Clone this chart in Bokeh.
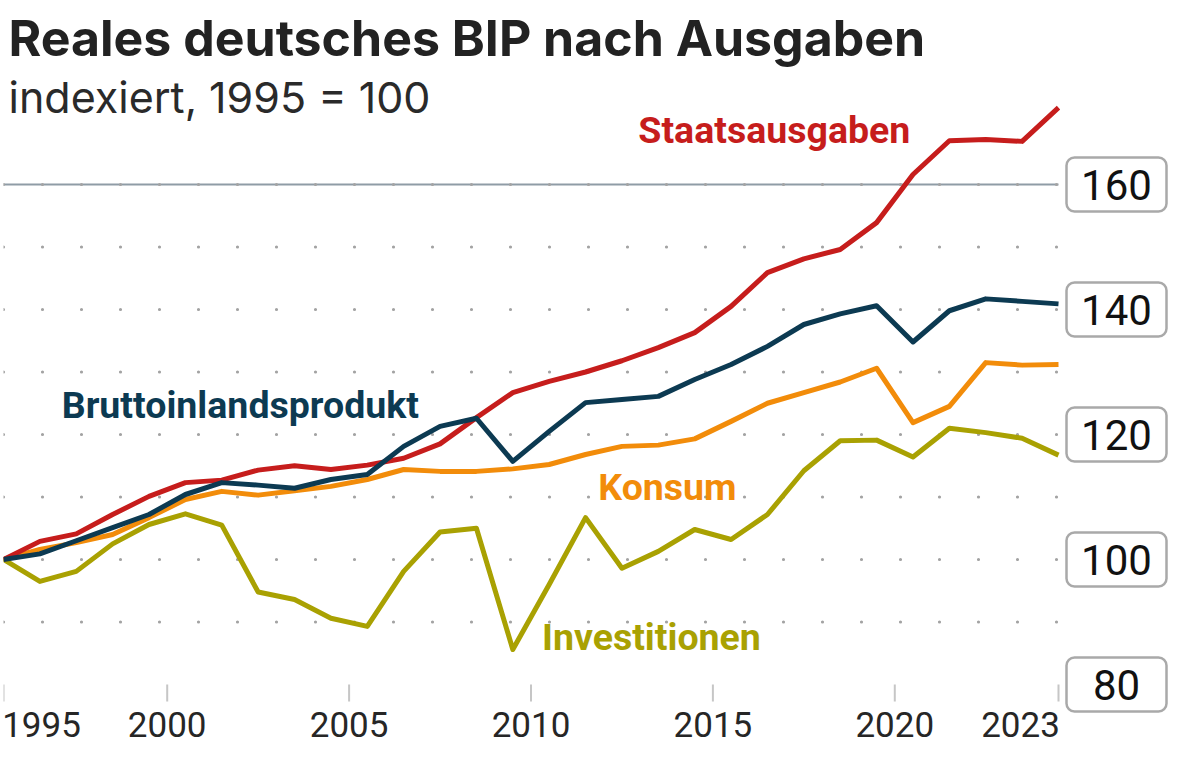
from bokeh.plotting import figure
from bokeh.models import Range1d, FixedTicker, Label, BoxAnnotation, ColumnDataSource
from bokeh.core.properties import value
from bokeh.embed import file_html
from bokeh.resources import INLINE

# ---------------- data ----------------
TITLE = "Reales deutsches BIP nach Ausgaben"
SUBTITLE = "indexiert, 1995 = 100"

years = list(range(1995, 2025))

staatsausgaben = [100.0, 102.9, 104.1, 107.2, 110.1, 112.3, 112.7, 114.3, 115.0, 114.4,
                  115.1, 116.2, 118.5, 122.7, 126.7, 128.5, 130.0, 131.8, 133.9, 136.3,
                  140.5, 145.9, 148.1, 149.6, 153.9, 161.6, 167.0, 167.2, 166.9, 172.3]

bip = [100.0, 100.9, 103.0, 105.1, 107.2, 110.4, 112.3, 111.9, 111.4, 112.8,
       113.6, 118.1, 121.3, 122.6, 115.7, 120.5, 125.1, 125.6, 126.1, 128.8,
       131.2, 134.1, 137.6, 139.3, 140.6, 134.8, 139.8, 141.7, 141.3, 140.9]

konsum = [100.0, 101.6, 102.7, 104.0, 106.7, 109.6, 110.9, 110.3, 111.0, 111.7,
          112.8, 114.4, 114.1, 114.1, 114.5, 115.2, 116.8, 118.1, 118.3, 119.3,
          122.1, 125.0, 126.7, 128.4, 130.6, 121.9, 124.5, 131.5, 131.1, 131.2]

investitionen = [100.0, 96.5, 98.1, 102.5, 105.6, 107.3, 105.5, 94.8, 93.6, 90.6,
                 89.3, 98.1, 104.4, 105.0, 85.6, 96.0, 106.7, 98.6, 101.3, 104.8,
                 103.2, 107.2, 114.2, 119.0, 119.1, 116.4, 121.0, 120.3, 119.4, 116.7]

series_names = ["Investitionen", "Konsum", "Staatsausgaben", "Bruttoinlandsprodukt"]
series_values = [investitionen, konsum, staatsausgaben, bip]
series_colors = ["#a9a102", "#f28c0a", "#c61d1c", "#0c3a52"]

# label anchors: (year of left edge, index value at the text baseline)
label_years = [2009.8, 2011.35, 2012.45, 1996.6]
label_values = [85.6, 109.6, 166.6, 122.7]

y_tick_values = [80, 100, 120, 140, 160]
grid_rows = [90, 100, 110, 120, 130, 140, 150, 160]
highlight_row = 160
x_tick_labels = ["1995", "2000", "2005", "2010", "2015", "2020", "2023"]
x_tick_years = [1995, 2000, 2005, 2010, 2015, 2020, 2023]

# ---------------- layout ----------------
W, H = 1184, 749
LEFT = 3
PLOT_W = 1055          # width of the data area (1995 .. 2024)
FRAME_W = W - LEFT     # frame also holds the value boxes on the right
FRAME_H = 714          # frame also holds the lowest value box
PX_PER_UNIT = 6.25
X0, X1 = years[0], years[-1]
PX_PER_YEAR = PLOT_W / (X1 - X0)
Y1 = highlight_row + 184 / PX_PER_UNIT
Y_BOTTOM = Y1 - FRAME_H / PX_PER_UNIT
Y_LOW = min(y_tick_values)

LABEL_SIZE = 37.5
MID = 0.342  # distance baseline -> middle of the text box, in em


def y_at(screen_y):
    return Y1 - screen_y / PX_PER_UNIT


p = figure(width=W, height=H,
           x_range=Range1d(X0, X0 + FRAME_W / PX_PER_YEAR),
           y_range=Range1d(Y_BOTTOM, Y1),
           min_border_left=LEFT, min_border_right=0,
           min_border_top=0, min_border_bottom=H - FRAME_H,
           toolbar_location=None, output_backend="svg",
           y_axis_location=None)
p.outline_line_color = None
p.xgrid.visible = False
p.ygrid.visible = False
p.background_fill_color = "white"
p.border_fill_color = "white"

# ---------------- grid ----------------
p.segment(x0=[X0], x1=[X1], y0=[highlight_row], y1=[highlight_row],
          line_color="#8f9ca6", line_width=2)
p.multi_line(xs=[[X0, X1] for _ in grid_rows], ys=[[r, r] for r in grid_rows],
             line_color="#a3a3a3", line_width=3.2, line_dash="0 39", line_cap="round")

# ---------------- lines ----------------
for name, vals, col in zip(series_names, series_values, series_colors):
    p.line(years, vals, line_color=col, line_width=5, line_join="round")

# ---------------- direct labels ----------------
mid_shift = MID * LABEL_SIZE / PX_PER_UNIT
lab_src = ColumnDataSource(dict(x=label_years,
                                y=[v + mid_shift for v in label_values],
                                text=series_names, color=series_colors))
p.text(x="x", y="y", text="text", text_color="color", source=lab_src,
       text_font=value("Roboto"), text_font_style="bold",
       text_font_size=f"{LABEL_SIZE}px",
       text_align="left", text_baseline="middle")

# ---------------- x axis ----------------
half_label = 38 / PX_PER_YEAR
tick_pos = [X0] + [y - 0.5 for y in x_tick_years[1:-1]] + [X1]
label_pos = [tick_pos[0] + half_label] + tick_pos[1:-1] + [tick_pos[-1] - half_label]
# tick marks hang below the lowest value line
tick_len = 17 / PX_PER_UNIT
p.segment(x0=tick_pos, x1=tick_pos, y0=[Y_LOW] * len(tick_pos),
          y1=[Y_LOW - tick_len] * len(tick_pos), line_color="#c6c6c6", line_width=2)

ax = p.xaxis[0]
ax.ticker = FixedTicker(ticks=label_pos, minor_ticks=[])
ax.major_label_overrides = {float(k): t for k, t in zip(label_pos, x_tick_labels)}
ax.axis_line_color = None
ax.major_tick_line_color = None
ax.minor_tick_line_color = None
ax.major_tick_in = 0
ax.major_tick_out = 0
ax.minor_tick_in = 0
ax.minor_tick_out = 0
ax.major_label_standoff = -3
ax.major_label_text_font = "Roboto"
ax.major_label_text_font_size = "35px"
ax.major_label_text_color = "#262626"

# ---------------- y value boxes on the right ----------------
box_left = X1 + 8 / PX_PER_YEAR
box_right = box_left + 100 / PX_PER_YEAR
box_half_h = 27 / PX_PER_UNIT
for v in y_tick_values:
    p.add_layout(BoxAnnotation(left=box_left, right=box_right,
                               bottom=v - box_half_h, top=v + box_half_h,
                               fill_color="white", fill_alpha=1.0,
                               line_color="#a9a9a9", line_alpha=1.0, line_width=2.5,
                               border_radius=8))
    p.add_layout(Label(x=(box_left + box_right) / 2, y=v, text=str(v),
                       text_align="center", text_baseline="middle",
                       text_font="Roboto", text_font_size="42px",
                       text_color="#111111"))

# ---------------- title ----------------
TITLE_SIZE, SUB_SIZE = 50, 43
p.add_layout(Label(x=X0, y=y_at(55 - 0.36 * TITLE_SIZE), x_offset=5, text=TITLE,
                   text_font="Inter", text_font_style="bold",
                   text_font_size=f"{TITLE_SIZE}px",
                   text_color="#222222", text_baseline="middle"))
p.add_layout(Label(x=X0, y=y_at(112 - 0.36 * SUB_SIZE), x_offset=5, text=SUBTITLE,
                   text_font="Inter", text_font_size=f"{SUB_SIZE}px",
                   text_color="#2a2a2a", text_baseline="middle"))

open("out.html", "w").write(file_html(p, INLINE))
